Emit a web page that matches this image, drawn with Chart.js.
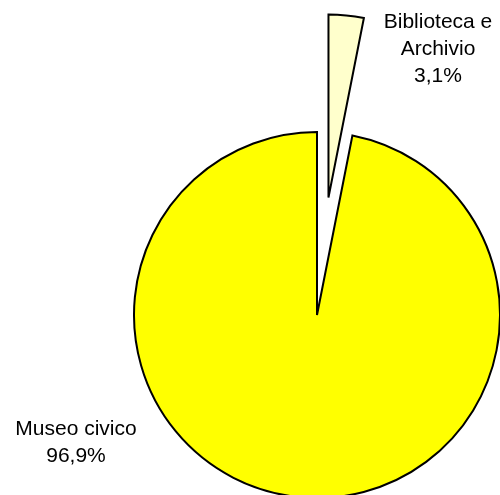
<!DOCTYPE html>
<html>
<head>
<meta charset="utf-8">
<script src="https://cdn.jsdelivr.net/npm/chart.js@4/dist/chart.umd.min.js"></script>
<style>
  html, body { margin: 0; padding: 0; background: #fff; }
  #wrap { width: 500px; height: 495px; position: relative; }
</style>
</head>
<body>
<div id="wrap"><canvas id="pie"></canvas></div>
<script>
const categories = ['Biblioteca e Archivio', 'Museo civico'];
const shares = [3.1, 96.9];
const sliceColors = ['#FFFFCC', '#FFFF00'];
const labelLines = [['Biblioteca e', 'Archivio', '3,1%'], ['Museo civico', '96,9%']];

// pulled-out distance per slice (px). Chart.js's own `offset` also grows the
// radius and narrows the wedge, so the slice is shifted whole instead.
const explode = [118, 0];

const explodeSlices = {
  id: 'explodeSlices',
  afterUpdate(chart) {
    chart.getDatasetMeta(0).data.forEach((arc, i) => {
      if (!explode[i] || arc._exploded) return;
      const baseDraw = arc.draw;
      arc.draw = function (ctx, area) {
        const mid = (this.startAngle + this.endAngle) / 2;
        ctx.save();
        ctx.translate(Math.cos(mid) * explode[i], Math.sin(mid) * explode[i]);
        baseDraw.call(this, ctx, area);
        ctx.restore();
      };
      arc._exploded = true;
    });
  }
};

// labels sit outside the pie, anchored on the pie centre
const outsideLabels = {
  id: 'outsideLabels',
  afterDatasetsDraw(chart) {
    const ctx = chart.ctx;
    const arcs = chart.getDatasetMeta(0).data;
    const cx = arcs[0].x, cy = arcs[0].y;
    const anchors = [
      { x: cx + 121, y: cy - 287 },
      { x: cx - 241, y: cy + 120 },
    ];
    ctx.save();
    ctx.fillStyle = '#000';
    ctx.font = '21px "Liberation Sans", Arial, sans-serif';
    ctx.textAlign = 'center';
    ctx.textBaseline = 'alphabetic';
    labelLines.forEach((lines, i) => {
      lines.forEach((t, j) => ctx.fillText(t, anchors[i].x, anchors[i].y + j * 27));
    });
    ctx.restore();
  }
};

new Chart(document.getElementById('pie'), {
  type: 'pie',
  data: {
    labels: categories,
    datasets: [{
      data: shares,
      backgroundColor: sliceColors,
      borderColor: '#000',
      borderWidth: 2,
      borderJoinStyle: 'miter',
      clip: false,
    }],
  },
  options: {
    responsive: true,
    maintainAspectRatio: false,
    animation: false,
    radius: 183,
    layout: { padding: { left: 134, right: 0, top: 135, bottom: 0 } },
    plugins: { legend: { display: false }, tooltip: { enabled: false } },
  },
  plugins: [explodeSlices, outsideLabels],
});
</script>
</body>
</html>
